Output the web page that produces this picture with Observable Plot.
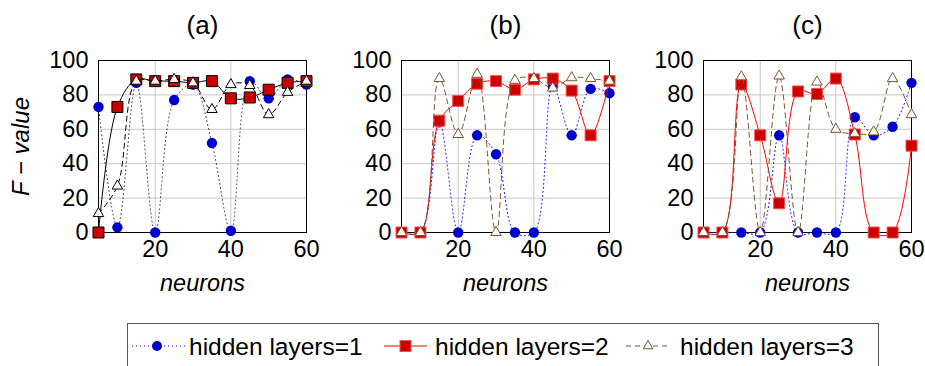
<!DOCTYPE html>
<html><head><meta charset="utf-8">
<script src="https://cdn.jsdelivr.net/npm/d3@7"></script>
<script src="https://cdn.jsdelivr.net/npm/@observablehq/plot@0.6"></script>
<style>
html,body{margin:0;padding:0;background:#fff;overflow:hidden}
#wrap{position:relative;width:925px;height:366px;font-family:"Liberation Sans",Arial,sans-serif;overflow:hidden}
.panel{position:absolute;top:0}
#legend{position:absolute;left:0;top:0}
</style></head><body><div id="wrap"></div>
<script>
// ---- data ----
const neurons = [5, 10, 15, 20, 25, 30, 35, 40, 45, 50, 55, 60];
const xTicks = [20, 40, 60];
const yTicks = [0, 20, 40, 60, 80, 100];
const panelTitles = ["(a)", "(b)", "(c)"];
const seriesNames = ["hidden layers=1", "hidden layers=2", "hidden layers=3"];

// panel (a)
const a1 = [73, 3, 87, 0, 77, 86, 52, 1, 88, 78, 89, 86];
const a2 = [0, 73, 89, 88, 88, 87, 88, 78, 78.5, 83, 87, 88];
const a3 = [11, 27, 88, 88, 89, 87, 71.5, 86, 85.5, 68.5, 81.5, 88];
// panel (b)
const b1 = [0, 0, 64, 0, 56.5, 45.5, 0, 0, 85, 56.5, 83.5, 81];
const b2 = [0, 0, 65, 76.5, 86.5, 88, 83, 89, 89.5, 82.5, 56.5, 88];
const b3 = [0, 0, 89.5, 57, 92, 0, 88.5, 89.5, 84, 90, 89.5, 88];
// panel (c)
const c1 = [0, 0, 0, 0, 56.5, 0, 0, 0, 67, 56.5, 61.5, 87];
const c2 = [0, 0, 86, 56.5, 17, 82, 80.5, 89.5, 57, 0, 0, 50.5];
const c3 = [0, 0, 90.5, 0, 91, 0, 87.5, 60, 57.5, 58.5, 89.5, 68.5];

const FONT = "Liberation Sans, Arial, sans-serif";
const rows = vals => neurons.map((n, i) => ({n, v: vals[i]}));

function panel(title, s1, s2, s3, mono, showY) {
  const l1 = mono ? "#222" : "#0000ff";
  const l2 = mono ? "#000" : "#ff0000";
  const l3 = mono ? "#000" : "#7a5230";
  const sqStroke = mono ? "#000" : "#ff4a4a";
  const triStroke = mono ? "#000" : "#7a5230";
  return Plot.plot({
    width: 320, height: 300,
    marginLeft: 98, marginRight: 14, marginTop: 60, marginBottom: 68,
    style: {background: "transparent", fontFamily: FONT, fontSize: "23px", overflow: "visible"},
    x: {domain: [5, 60]},
    y: {domain: [0, 100]},
    marks: [
      Plot.gridX(xTicks, {stroke: "#c8c8c8", strokeOpacity: 1}),
      Plot.gridY(yTicks, {stroke: "#c8c8c8", strokeOpacity: 1}),
      Plot.frame({stroke: "#000", strokeWidth: 1}),
      Plot.axisX(xTicks, {tickSize: 0, tickPadding: 8, fontSize: 23.5, label: null, fill: "#000"}),
      Plot.axisY(yTicks, {tickSize: 0, tickPadding: 10, fontSize: 23.5, label: null, fill: "#000"}),
      Plot.line(rows(s1), {x: "n", y: "v", curve: "catmull-rom", stroke: l1, strokeWidth: mono ? 0.9 : 1, strokeDasharray: "1,3"}),
      Plot.dot(rows(s1), {x: "n", y: "v", r: 5.2, fill: "#0000cc"}),
      Plot.line(rows(s2), {x: "n", y: "v", curve: "catmull-rom", stroke: l2, strokeWidth: 1}),
      Plot.dot(rows(s2), {x: "n", y: "v", r: 6.2, symbol: "square", fill: "#cc0000", stroke: sqStroke, strokeWidth: 1}),
      Plot.line(rows(s3), {x: "n", y: "v", curve: "catmull-rom", stroke: l3, strokeWidth: 1, strokeDasharray: "5,4"}),
      Plot.dot(rows(s3), {x: "n", y: "v", r: 3.9, symbol: "triangle", fill: "#fff", stroke: triStroke, strokeWidth: 1}),
      Plot.text([title], {text: d => d, frameAnchor: "top", lineAnchor: "middle", textAnchor: "middle", dy: -35, fontSize: 26, fill: "#000"}),
      Plot.text(["neurons"], {text: d => d, frameAnchor: "bottom", lineAnchor: "middle", textAnchor: "middle", dy: 51, fontSize: 23.5, fontStyle: "italic", fill: "#000"}),
      showY ? Plot.text(["F − value"], {text: d => d, frameAnchor: "left", lineAnchor: "middle", textAnchor: "middle", dx: -77, rotate: -90, fontSize: 24, fontStyle: "italic", fill: "#000"}) : null
    ]
  });
}

const wrap = document.getElementById("wrap");
const specs = [
  [panelTitles[0], a1, a2, a3, true, true, 0],
  [panelTitles[1], b1, b2, b3, false, false, 303],
  [panelTitles[2], c1, c2, c3, false, false, 605]
];
for (const [t, s1, s2, s3, mono, showY, left] of specs) {
  const p = panel(t, s1, s2, s3, mono, showY);
  p.classList.add("panel");
  p.style.left = left + "px";
  wrap.appendChild(p);
}

// ---- legend ----
const svg = d3.select(wrap).append("svg").attr("id", "legend")
  .attr("width", 925).attr("height", 366);
svg.append("rect").attr("x", 127.5).attr("y", 323.5).attr("width", 751).attr("height", 60)
  .attr("fill", "none").attr("stroke", "#555");
const ly = 346;
const g1 = svg.append("g");
g1.append("line").attr("x1", 132).attr("x2", 185).attr("y1", ly).attr("y2", ly)
  .attr("stroke", "#0000ff").attr("stroke-dasharray", "1,3");
g1.append("circle").attr("cx", 157).attr("cy", ly).attr("r", 5).attr("fill", "#0000cc");
const g2 = svg.append("g");
g2.append("line").attr("x1", 384).attr("x2", 427).attr("y1", ly).attr("y2", ly).attr("stroke", "#ff0000");
g2.append("rect").attr("x", 400).attr("y", ly - 5.5).attr("width", 11).attr("height", 11)
  .attr("fill", "#cc0000").attr("stroke", "#ff4a4a");
const g3 = svg.append("g");
g3.append("line").attr("x1", 626).attr("x2", 670).attr("y1", ly).attr("y2", ly)
  .attr("stroke", "#7a5230").attr("stroke-dasharray", "5,4");
g3.append("path").attr("d", d3.symbol(d3.symbolTriangle, 40)()).attr("transform", `translate(648,${ly})`)
  .attr("fill", "#fff").attr("stroke", "#7a5230");
const tx = [189, 435, 680];
seriesNames.forEach((s, i) => {
  svg.append("text").attr("x", tx[i]).attr("y", ly).attr("dy", "0.35em")
    .attr("font-family", FONT).attr("font-size", 24.5).attr("fill", "#000").text(s);
});
</script>
</body></html>
